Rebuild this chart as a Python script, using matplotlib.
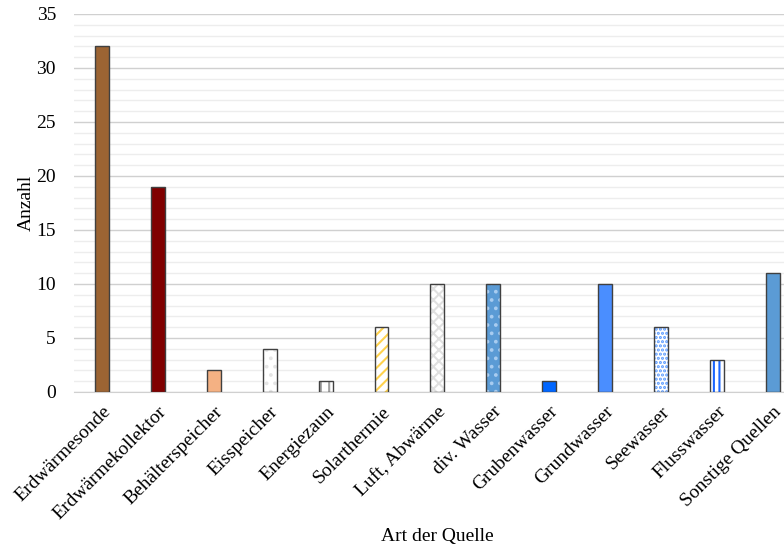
import matplotlib.pyplot as plt
from matplotlib.ticker import MultipleLocator

plt.rcParams['font.family'] = ['Liberation Serif', 'DejaVu Serif']
plt.rcParams['hatch.linewidth'] = 1.5

quellen = ['Erdwärmesonde', 'Erdwärmekollektor', 'Behälterspeicher', 'Eisspeicher',
           'Energiezaun', 'Solarthermie', 'Luft, Abwärme', 'div. Wasser', 'Grubenwasser',
           'Grundwasser', 'Seewasser', 'Flusswasser', 'Sonstige Quellen']
anzahl = [32, 19, 2, 4, 1, 6, 10, 10, 1, 10, 6, 3, 11]

# Füllfarbe, Schraffur, Schraffurfarbe
stil = [
    ('#9C6433', '', None),
    ('#800000', '', None),
    ('#F4B183', '', None),
    ('white', '..', '#E4E4E4'),
    ('white', '||', '#A0A0A0'),
    ('white', '///', '#FFD24D'),
    ('white', 'xxx', '#E0E0E0'),
    ('#5B9BD5', '..', '#A8CCF0'),
    ('#0066FF', '', None),
    ('#4A8EFF', '', None),
    ('white', '....', '#5B9BFF'),
    ('white', '|||', '#1A66FF'),
    ('#5B9BD5', '', None),
]

fig = plt.figure(figsize=(7.84, 5.48), dpi=100)
ax = fig.add_axes([0.0944, 0.2847, 0.927, 0.6898])

x = range(len(quellen))
for i, (wert, (farbe, muster, mfarbe)) in enumerate(zip(anzahl, stil)):
    if muster:
        ax.bar(i, wert, width=0.25, color=farbe, hatch=muster, edgecolor=mfarbe,
               linewidth=0, zorder=3)
    else:
        ax.bar(i, wert, width=0.25, color=farbe, linewidth=0, zorder=3)
    ax.bar(i, wert, width=0.25, fill=False, edgecolor='#404040', linewidth=1.0, zorder=4)

ax.set_xlim(-0.5, len(quellen) - 0.5)
ax.set_ylim(0, 35)
ax.yaxis.set_major_locator(MultipleLocator(5))
ax.yaxis.set_minor_locator(MultipleLocator(1))
ax.grid(which='major', axis='y', color='#D0D0D0', linewidth=1.0, zorder=0)
ax.grid(which='minor', axis='y', color='#EDEDED', linewidth=1.0, zorder=0)

for s in ['top', 'right', 'left']:
    ax.spines[s].set_visible(False)
ax.spines['bottom'].set_color('#D0D0D0')
ax.tick_params(axis='both', length=0, labelsize=14, pad=8)
ax.tick_params(axis='y', pad=13)
ax.tick_params(axis='y', which='minor', length=0)

ax.set_xticks(list(x))
ax.set_xticklabels(quellen, rotation=45, ha='right', rotation_mode='anchor')
ax.set_ylabel('Anzahl', fontsize=14)
ax.yaxis.set_label_coords(-0.054, 0.5)
fig.text(437 / 784, 1 - 537 / 548, 'Art der Quelle', fontsize=14,
         ha='center', va='center')

fig.savefig('out.png', dpi=100)
